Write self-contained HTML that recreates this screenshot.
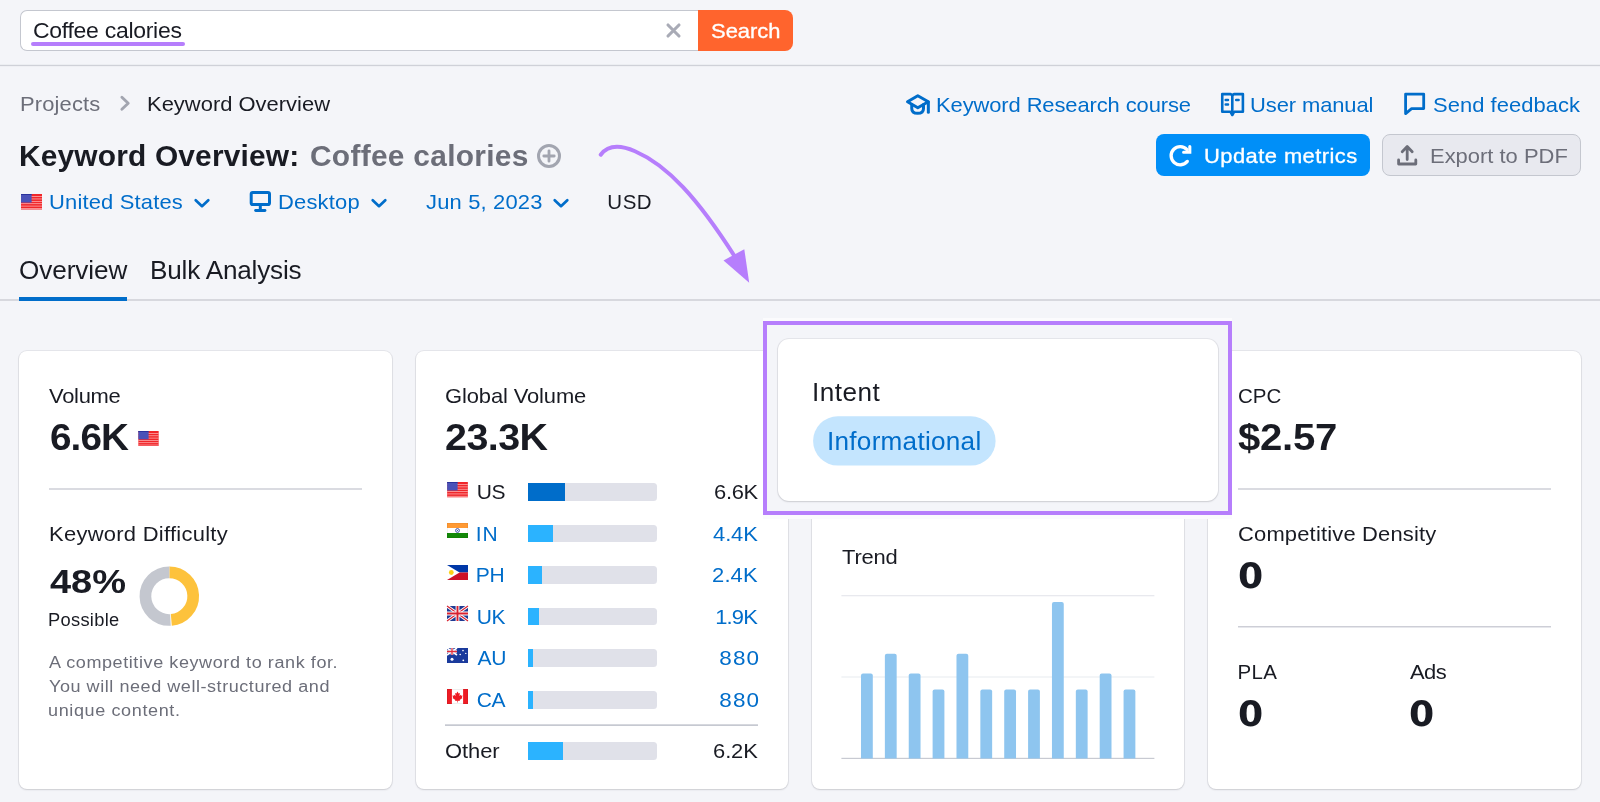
<!DOCTYPE html>
<html lang="en">
<head>
<meta charset="utf-8">
<title>Keyword Overview: Coffee calories</title>
<style>
*{box-sizing:border-box;margin:0;padding:0}
html,body{width:1600px;height:802px;overflow:hidden;background:#f4f5f9}
body{position:relative;font-family:"Liberation Sans", sans-serif;-webkit-font-smoothing:antialiased}
.t{position:absolute;white-space:nowrap}
.txt{position:absolute;left:0;top:0;width:1600px;height:802px;will-change:transform}
.i{position:absolute;display:block;overflow:visible}
.abs{position:absolute}
.card{position:absolute;background:#fff;border-radius:8px;box-shadow:0 0 0 1px rgba(25,27,35,.05),0 1px 2px rgba(25,27,35,.12),0 0 2px rgba(25,27,35,.05)}
.hr{position:absolute;height:2px;background:#dadbe1}
.bar{position:absolute;left:528.2px;width:128.4px;height:17.8px;background:#e0e1e9;border-radius:0 3.5px 3.5px 0;overflow:hidden}
.bar div{height:100%}
</style>
</head>
<body>
<div class="abs" style="left:20px;top:10px;width:679px;height:41.3px;background:#fff;border:1px solid #c4c7cf;border-right:0;border-radius:7px 0 0 7px"></div>
<div class="abs" style="left:698px;top:10px;width:95.3px;height:41.3px;background:#ff642d;border-radius:0 8px 8px 0"></div>
<div class="abs" style="left:31px;top:42px;width:153.5px;height:4.2px;background:#b67efc;border-radius:2.1px"></div>
<div class="abs" style="left:0;top:64px;width:1600px;height:1px;background:#eceef2"></div>
<div class="abs" style="left:0;top:65px;width:1600px;height:1px;background:#cfd1d8"></div>
<div class="abs" style="left:0;top:66px;width:1600px;height:1px;background:#eff0f4"></div>
<div class="abs" style="left:1155.5px;top:134.3px;width:214.5px;height:41.7px;background:#008ff8;border-radius:8px"></div>
<div class="abs" style="left:1382.3px;top:134.3px;width:198.5px;height:41.7px;background:#e8e9ef;border:1.2px solid #c4c7cf;border-radius:8px"></div>
<div class="abs" style="left:0;top:299px;width:1600px;height:2px;background:#d7d8de"></div>
<div class="abs" style="left:19.3px;top:296.6px;width:108.2px;height:4.3px;background:#006dca"></div>
<div class="card" style="left:19px;top:351.2px;width:372.8px;height:437.7px"></div>
<div class="card" style="left:415.8px;top:351.2px;width:372.1px;height:437.7px"></div>
<div class="card" style="left:812px;top:351.2px;width:371.9px;height:437.7px"></div>
<div class="card" style="left:1208px;top:351.2px;width:372.6px;height:437.7px"></div>
<div class="hr" style="left:49px;top:488px;width:313px"></div>
<div class="hr" style="left:1238px;top:488px;width:313px"></div>
<div class="hr" style="left:1238px;top:626px;width:313px;height:1px;background:#cdced6"></div>
<div class="hr" style="left:1238px;top:627px;width:313px;height:1px;background:#e6e7ec"></div>
<div class="hr" style="left:445px;top:724px;width:313px;height:1px;background:#d6d8de"></div>
<div class="hr" style="left:445px;top:725px;width:313px;height:1px;background:#c6c9d1"></div>
<div class="bar" style="top:482.8px"><div style="width:36.7px;background:#006dca"></div></div>
<div class="bar" style="top:524.7px"><div style="width:24.7px;background:#2bb3ff"></div></div>
<div class="bar" style="top:566.1px"><div style="width:13.6px;background:#2bb3ff"></div></div>
<div class="bar" style="top:607.7px"><div style="width:10.9px;background:#2bb3ff"></div></div>
<div class="bar" style="top:649.3px"><div style="width:5.1px;background:#2bb3ff"></div></div>
<div class="bar" style="top:691px"><div style="width:5.1px;background:#2bb3ff"></div></div>
<div class="bar" style="top:742.2px"><div style="width:34.7px;background:#2bb3ff"></div></div>
<svg class="i" style="left:830px;top:585px" width="340" height="185" viewBox="830 585 340 185"><rect x="841.4" y="595.1" width="313" height="1.2" fill="#e6e7ed"/><rect x="841.4" y="676.4" width="313" height="1.2" fill="#eceef2"/><rect x="841.4" y="757.8" width="313" height="1.2" fill="#c8cad2"/><path d="M861.00 758.4 V675.60 Q861.00 673.60 863.00 673.60 H870.80 Q872.80 673.60 872.80 675.60 V758.4 Z" fill="#8ec5ef"/><path d="M884.87 758.4 V655.70 Q884.87 653.70 886.87 653.70 H894.67 Q896.67 653.70 896.67 655.70 V758.4 Z" fill="#8ec5ef"/><path d="M908.74 758.4 V675.60 Q908.74 673.60 910.74 673.60 H918.54 Q920.54 673.60 920.54 675.60 V758.4 Z" fill="#8ec5ef"/><path d="M932.61 758.4 V691.50 Q932.61 689.50 934.61 689.50 H942.41 Q944.41 689.50 944.41 691.50 V758.4 Z" fill="#8ec5ef"/><path d="M956.48 758.4 V655.70 Q956.48 653.70 958.48 653.70 H966.28 Q968.28 653.70 968.28 655.70 V758.4 Z" fill="#8ec5ef"/><path d="M980.35 758.4 V691.50 Q980.35 689.50 982.35 689.50 H990.15 Q992.15 689.50 992.15 691.50 V758.4 Z" fill="#8ec5ef"/><path d="M1004.22 758.4 V691.50 Q1004.22 689.50 1006.22 689.50 H1014.02 Q1016.02 689.50 1016.02 691.50 V758.4 Z" fill="#8ec5ef"/><path d="M1028.09 758.4 V691.50 Q1028.09 689.50 1030.09 689.50 H1037.89 Q1039.89 689.50 1039.89 691.50 V758.4 Z" fill="#8ec5ef"/><path d="M1051.96 758.4 V604.10 Q1051.96 602.10 1053.96 602.10 H1061.76 Q1063.76 602.10 1063.76 604.10 V758.4 Z" fill="#8ec5ef"/><path d="M1075.83 758.4 V691.50 Q1075.83 689.50 1077.83 689.50 H1085.63 Q1087.63 689.50 1087.63 691.50 V758.4 Z" fill="#8ec5ef"/><path d="M1099.70 758.4 V675.60 Q1099.70 673.60 1101.70 673.60 H1109.50 Q1111.50 673.60 1111.50 675.60 V758.4 Z" fill="#8ec5ef"/><path d="M1123.57 758.4 V691.50 Q1123.57 689.50 1125.57 689.50 H1133.37 Q1135.37 689.50 1135.37 691.50 V758.4 Z" fill="#8ec5ef"/></svg>
<div class="abs" style="left:762.6px;top:318.4px;width:469.6px;height:200.6px;background:#fbfbfd"></div>
<div class="abs" style="left:762.6px;top:321.3px;width:469.6px;height:193.7px;background:#f4f5f9;border:4.2px solid #b67efc"></div>
<div class="card" style="left:778.3px;top:338.8px;width:439.6px;height:161.8px;border-radius:11px"></div>
<svg class="i" style="left:810px;top:414px" width="190" height="54" viewBox="810 414 190 54"><rect x="813.1" y="416.25" width="182.5" height="49.35" rx="24.67" fill="#c4e5fe"/></svg>
<svg class="i" style="left:590px;top:135px" width="180" height="160" viewBox="590 135 180 160"><path d="M600.75 154.75 C604.6 149.53 613.43 141.97 635 151.25 C667.13 165.08 697.5 197.5 737 260" fill="none" stroke="#b67efc" stroke-width="4" stroke-linecap="round"/><path d="M749.2 282.8 L723.5 260.4 L744.3 249.2 Z" fill="#b67efc"/></svg>
<svg class="i" style="left:666.3px;top:23.0px" width="15" height="15" viewBox="0 0 15 15" ><path d="M2 2 L13 13 M13 2 L2 13" stroke="#a9abb6" stroke-width="3.1" stroke-linecap="round"/></svg>
<svg class="i" style="left:118px;top:94px" width="14" height="18" viewBox="0 0 14 18" ><path d="M3.9 3.2 L10.2 9.2 L3.9 15.2" fill="none" stroke="#a2a5b0" stroke-width="2.9" stroke-linecap="round" stroke-linejoin="round"/></svg>
<svg class="i" style="left:536px;top:142.5px" width="26" height="26" viewBox="0 0 26 26" ><circle cx="13" cy="13" r="10.5" fill="none" stroke="#a2a5b0" stroke-width="3"/><path d="M7.8 13 H18.2 M13 7.8 V18.2" stroke="#a2a5b0" stroke-width="2.8" stroke-linecap="round"/></svg>
<svg class="i" style="left:21px;top:194.4px" width="21" height="15.5" viewBox="0 0 21 15.5" ><rect width="21" height="15.5" fill="#f0262a"/><rect y="2.20" width="21" height="0.75" fill="#ffb4b4"/><rect y="4.58" width="21" height="0.75" fill="#ffb4b4"/><rect y="6.96" width="21" height="0.75" fill="#ffb4b4"/><rect y="9.34" width="21" height="0.75" fill="#ffb4b4"/><rect y="11.72" width="21" height="0.75" fill="#ffb4b4"/><rect y="14.10" width="21" height="0.75" fill="#ffb4b4"/><rect width="10.6" height="8.6" fill="#4a52b8"/><rect width="10.6" height="1" fill="#2a329c"/></svg>
<svg class="i" style="left:191.5px;top:192.9px" width="20" height="20" viewBox="0 0 20 20" ><path d="M3.7 7.2 L10 13.2 L16.3 7.2" fill="none" stroke="#006dca" stroke-width="2.7" stroke-linecap="round" stroke-linejoin="round"/></svg>
<svg class="i" style="left:248px;top:189px" width="24" height="24" viewBox="0 0 24 24" ><rect x="3.2" y="3.5" width="18.3" height="12" rx="1.6" fill="none" stroke="#006dca" stroke-width="3"/><path d="M12.3 17 V20.4" stroke="#006dca" stroke-width="3"/><path d="M7.6 21.5 H17" stroke="#006dca" stroke-width="2.8" stroke-linecap="round"/></svg>
<svg class="i" style="left:368.5px;top:192.9px" width="20" height="20" viewBox="0 0 20 20" ><path d="M3.7 7.2 L10 13.2 L16.3 7.2" fill="none" stroke="#006dca" stroke-width="2.7" stroke-linecap="round" stroke-linejoin="round"/></svg>
<svg class="i" style="left:551.2px;top:192.9px" width="20" height="20" viewBox="0 0 20 20" ><path d="M3.7 7.2 L10 13.2 L16.3 7.2" fill="none" stroke="#006dca" stroke-width="2.7" stroke-linecap="round" stroke-linejoin="round"/></svg>
<svg class="i" style="left:904px;top:90px" width="28" height="28" viewBox="0 0 28 28" ><g fill="none" stroke="#006dca" stroke-width="3" stroke-linejoin="round" stroke-linecap="round"><path d="M13.8 5.7 L3.5 11.8 L13.8 17.8 L24.3 11.7 Z"/><path d="M24.35 11.9 V22.2"/><path d="M7.75 14.6 V18.4 C7.75 21.8 10.5 23.3 13.65 23.3 C16.8 23.3 19.5 21.8 19.5 18.4 V14.6"/></g></svg>
<svg class="i" style="left:1218px;top:89px" width="30" height="30" viewBox="0 0 30 30" ><g fill="none" stroke="#006dca" stroke-width="2.6" stroke-linejoin="round"><path d="M4.25 5.1 H12.6 L14.3 6.3 L16 5.1 H24.9 V22.7 H16.2 L14.3 26 L12.4 22.7 H4.25 Z"/><path d="M14.3 6 V24"/></g><g stroke="#006dca" stroke-width="2.5" stroke-linecap="round"><path d="M7.7 10.9 H10 M7.7 15.4 H10 M18.2 10.9 H20.6"/></g></svg>
<svg class="i" style="left:1401px;top:89px" width="28" height="30" viewBox="0 0 28 30" ><path d="M4.6 5.1 H22.7 V19.6 H10.6 L4.6 24.6 Z" fill="none" stroke="#006dca" stroke-width="2.8" stroke-linejoin="round"/></svg>
<svg class="i" style="left:1166px;top:141px" width="30" height="30" viewBox="0 0 30 30" ><g fill="none" stroke="#fff" stroke-width="3.3" stroke-linecap="round"><path d="M21.3 20.4 A9.1 9.1 0 1 1 21.0 8.6"/><path d="M23.8 5.6 V11.3 H17.6" stroke-width="3.1" stroke-linejoin="miter"/></g></svg>
<svg class="i" style="left:1393px;top:141px" width="28" height="28" viewBox="0 0 28 28" ><g fill="none" stroke="#6c6e79" stroke-width="2.8" stroke-linecap="round" stroke-linejoin="round"><path d="M14.2 18.6 V6 M9.2 10.7 L14.2 5.6 L19.2 10.7"/><path d="M5.6 19 V23 H22.8 V19"/></g></svg>
<svg class="i" style="left:138.1px;top:431.0px" width="21" height="15" viewBox="0 0 21 15.5" ><rect width="21" height="15.5" fill="#f0262a"/><rect y="2.20" width="21" height="0.75" fill="#ffb4b4"/><rect y="4.58" width="21" height="0.75" fill="#ffb4b4"/><rect y="6.96" width="21" height="0.75" fill="#ffb4b4"/><rect y="9.34" width="21" height="0.75" fill="#ffb4b4"/><rect y="11.72" width="21" height="0.75" fill="#ffb4b4"/><rect y="14.10" width="21" height="0.75" fill="#ffb4b4"/><rect width="10.6" height="8.6" fill="#4a52b8"/><rect width="10.6" height="1" fill="#2a329c"/></svg>
<svg class="i" style="left:446.5px;top:481.5px" width="21" height="15.3" viewBox="0 0 21 15.5" ><rect width="21" height="15.5" fill="#f0262a"/><rect y="2.20" width="21" height="0.75" fill="#ffb4b4"/><rect y="4.58" width="21" height="0.75" fill="#ffb4b4"/><rect y="6.96" width="21" height="0.75" fill="#ffb4b4"/><rect y="9.34" width="21" height="0.75" fill="#ffb4b4"/><rect y="11.72" width="21" height="0.75" fill="#ffb4b4"/><rect y="14.10" width="21" height="0.75" fill="#ffb4b4"/><rect width="10.6" height="8.6" fill="#4a52b8"/><rect width="10.6" height="1" fill="#2a329c"/></svg>
<svg class="i" style="left:446.5px;top:523px" width="21" height="15" viewBox="0 0 21 15" ><rect width="21" height="15" fill="#fff"/><rect width="21" height="5" fill="#ff9933"/><rect y="10" width="21" height="5" fill="#138808"/><circle cx="10.5" cy="7.5" r="1.9" fill="none" stroke="#2a3fa0" stroke-width="0.9"/><circle cx="10.5" cy="7.5" r="0.6" fill="#2a3fa0"/><rect x="0.25" y="0.25" width="20.5" height="14.5" fill="none" stroke="#00000018" stroke-width="0.5"/></svg>
<svg class="i" style="left:446.5px;top:564.7px" width="21" height="15" viewBox="0 0 21 15" ><rect width="21" height="7.5" fill="#0038a8"/><rect y="7.5" width="21" height="7.5" fill="#ce1126"/><path d="M0 0 L12.6 7.5 L0 15 Z" fill="#fff"/><circle cx="4.3" cy="7.5" r="2.4" fill="#fcd116"/></svg>
<svg class="i" style="left:446.5px;top:606.2px" width="21" height="15" viewBox="0 0 21 15" ><rect width="21" height="15" fill="#1f3a93"/><path d="M0 0 L21 15 M21 0 L0 15" stroke="#fff" stroke-width="3"/><path d="M0 0 L21 15 M21 0 L0 15" stroke="#d8202f" stroke-width="1.1"/><path d="M10.5 0 V15 M0 7.5 H21" stroke="#fff" stroke-width="3.8"/><path d="M10.5 0 V15 M0 7.5 H21" stroke="#d8202f" stroke-width="1.9"/></svg>
<svg class="i" style="left:446.5px;top:647.8px" width="21" height="15" viewBox="0 0 21 15" ><rect width="21" height="15" fill="#1a3a9c"/><path d="M0 0 L10 7 M10 0 L0 7" stroke="#fff" stroke-width="1.6"/><path d="M5 0 V7 M0 3.5 H10" stroke="#fff" stroke-width="2.6"/><path d="M5 0 V7 M0 3.5 H10" stroke="#e0303c" stroke-width="1.3"/><circle cx="5" cy="11.3" r="1.5" fill="#fff"/><circle cx="16" cy="2.6" r="0.8" fill="#fff"/><circle cx="13.2" cy="6.5" r="0.8" fill="#fff"/><circle cx="18.8" cy="5.4" r="0.7" fill="#fff"/><circle cx="16.3" cy="12.3" r="0.9" fill="#fff"/></svg>
<svg class="i" style="left:446.5px;top:689.2px" width="21" height="15" viewBox="0 0 21 15" ><rect width="21" height="15" fill="#fff"/><rect width="4.9" height="15" fill="#ee1c25"/><rect x="16.1" width="4.9" height="15" fill="#ee1c25"/><path d="M10.5 2.4 L11.6 4.6 L12.9 4.1 L12.4 7 L13.9 5.8 L14.3 6.8 L15.6 6.6 L14.9 8.6 L15.5 9.1 L12.6 11.1 L12.9 12 L10.8 11.7 L10.8 13.4 L10.2 13.4 L10.2 11.7 L8.1 12 L8.4 11.1 L5.5 9.1 L6.1 8.6 L5.4 6.6 L6.7 6.8 L7.1 5.8 L8.6 7 L8.1 4.1 L9.4 4.6 Z" fill="#ee1c25"/><rect x="0.25" y="0.25" width="20.5" height="14.5" fill="none" stroke="#00000020" stroke-width="0.5"/></svg>
<svg class="i" style="left:134px;top:561px" width="70" height="70" viewBox="134 561 70 70"><path d="M169.35 572.30 A23.85 23.85 0 0 1 171.30 619.92" fill="none" stroke="#fdc23c" stroke-width="11.7"/><path d="M170.47 619.97 A23.85 23.85 0 1 1 169.35 572.30" fill="none" stroke="#c4c7cf" stroke-width="11.7"/></svg>
<div class="txt">
<div class="t" id="q" style="top:16px;font-size:22px;line-height:29px;color:#191b23;letter-spacing:-0.276px;transform:scaleX(1.045);transform-origin:left center;left:32.94px;">Coffee calories</div>
<div class="t" id="sbtn" style="top:17px;font-size:21px;line-height:27px;color:#fff;transform:scaleX(1.045);transform-origin:left center;-webkit-text-stroke:0.35px #fff;left:710.76px;">Search</div>
<div class="t" id="bc1" style="top:90px;font-size:21px;line-height:27px;color:#6c6e79;letter-spacing:0.130px;transform:scaleX(1.045);transform-origin:left center;left:19.58px;">Projects</div>
<div class="t" id="bc2" style="top:90px;font-size:21px;line-height:27px;color:#191b23;letter-spacing:0.007px;transform:scaleX(1.045);transform-origin:left center;left:146.92px;">Keyword Overview</div>
<div class="t" id="h1a" style="top:137px;font-size:29px;line-height:38px;color:#191b23;font-weight:700;letter-spacing:0.176px;transform:scaleX(1.03);transform-origin:left center;left:18.74px;">Keyword Overview:</div>
<div class="t" id="h1b" style="top:137px;font-size:29px;line-height:38px;color:#6c6e79;font-weight:700;letter-spacing:0.292px;transform:scaleX(1.03);transform-origin:left center;left:310.30px;">Coffee calories</div>
<div class="t" id="f1" style="top:188px;font-size:21px;line-height:27px;color:#006dca;letter-spacing:0.159px;transform:scaleX(1.045);transform-origin:left center;left:49.30px;">United States</div>
<div class="t" id="f2" style="top:188px;font-size:21px;line-height:27px;color:#006dca;letter-spacing:0.184px;transform:scaleX(1.045);transform-origin:left center;left:278.30px;">Desktop</div>
<div class="t" id="f3" style="top:188px;font-size:21px;line-height:27px;color:#006dca;letter-spacing:0.160px;transform:scaleX(1.045);transform-origin:left center;left:426.10px;">Jun 5, 2023</div>
<div class="t" id="f4" style="top:188px;font-size:20.5px;line-height:27px;color:#191b23;letter-spacing:0.500px;transform:scaleX(1.0);transform-origin:left center;left:607.35px;">USD</div>
<div class="t" id="l1" style="top:91px;font-size:21px;line-height:27px;color:#006dca;letter-spacing:-0.101px;transform:scaleX(1.045);transform-origin:left center;left:936.20px;">Keyword Research course</div>
<div class="t" id="l2" style="top:91px;font-size:21px;line-height:27px;color:#006dca;letter-spacing:-0.090px;transform:scaleX(1.045);transform-origin:left center;left:1250.30px;">User manual</div>
<div class="t" id="l3" style="top:91px;font-size:21px;line-height:27px;color:#006dca;letter-spacing:0.041px;transform:scaleX(1.045);transform-origin:left center;left:1433.20px;">Send feedback</div>
<div class="t" id="b1" style="top:142px;font-size:21px;line-height:27px;color:#fff;letter-spacing:0.416px;transform:scaleX(1.045);transform-origin:left center;-webkit-text-stroke:0.33px #fff;left:1204.20px;">Update metrics</div>
<div class="t" id="b2" style="top:142px;font-size:21px;line-height:27px;color:#6c6e79;transform:scaleX(1.045);transform-origin:left center;left:1430.30px;">Export to PDF</div>
<div class="t" id="tab1" style="top:254px;font-size:25px;line-height:32px;color:#191b23;letter-spacing:-0.085px;transform:scaleX(1.045);transform-origin:left center;left:19.20px;">Overview</div>
<div class="t" id="tab2" style="top:254px;font-size:25px;line-height:32px;color:#191b23;letter-spacing:-0.182px;transform:scaleX(1.045);transform-origin:left center;left:150.40px;">Bulk Analysis</div>
<div class="t" id="c1a" style="top:382px;font-size:21px;line-height:27px;color:#191b23;letter-spacing:-0.280px;transform:scaleX(1.045);transform-origin:left center;left:49.10px;">Volume</div>
<div class="t" id="c1b" style="top:414px;font-size:36.5px;line-height:47px;color:#191b23;font-weight:700;letter-spacing:-0.865px;transform:scaleX(1.06);transform-origin:left center;left:49.56px;">6.6K</div>
<div class="t" id="c1c" style="top:520px;font-size:21px;line-height:27px;color:#191b23;letter-spacing:0.265px;transform:scaleX(1.045);transform-origin:left center;left:49.32px;">Keyword Difficulty</div>
<div class="t" id="c1d" style="top:560px;font-size:33px;line-height:43px;color:#191b23;font-weight:700;transform:scaleX(1.15);transform-origin:left center;left:49.70px;">48%</div>
<div class="t" id="c1e" style="top:609px;font-size:17.5px;line-height:23px;color:#191b23;letter-spacing:0.284px;transform:scaleX(1.045);transform-origin:left center;left:48.30px;">Possible</div>
<div class="t" id="c1f" style="top:651px;font-size:17.25px;line-height:22px;color:#6c6e79;letter-spacing:0.554px;transform:scaleX(1.045);transform-origin:left center;left:49.10px;">A competitive keyword to rank for.</div>
<div class="t" id="c1g" style="top:675px;font-size:17.25px;line-height:22px;color:#6c6e79;letter-spacing:0.525px;transform:scaleX(1.045);transform-origin:left center;left:49.10px;">You will need well-structured and</div>
<div class="t" id="c1h" style="top:699px;font-size:17.25px;line-height:22px;color:#6c6e79;letter-spacing:0.592px;transform:scaleX(1.045);transform-origin:left center;left:48.30px;">unique content.</div>
<div class="t" id="c2a" style="top:382px;font-size:21px;line-height:27px;color:#191b23;letter-spacing:-0.113px;transform:scaleX(1.045);transform-origin:left center;left:445.05px;">Global Volume</div>
<div class="t" id="c2b" style="top:414px;font-size:36.5px;line-height:47px;color:#191b23;font-weight:700;letter-spacing:-0.500px;transform:scaleX(1.08);transform-origin:left center;left:445.20px;">23.3K</div>
<div class="t" id="cc0" style="top:478px;font-size:21px;line-height:27px;color:#191b23;letter-spacing:-0.300px;transform:scaleX(1.0);transform-origin:left center;left:476.64px;">US</div>
<div class="t" id="cv0" style="top:478px;font-size:21px;line-height:27px;color:#191b23;letter-spacing:-0.334px;transform:scaleX(1.045);transform-origin:right center;right:842.27px;">6.6K</div>
<div class="t" id="cc1" style="top:520px;font-size:21px;line-height:27px;color:#006dca;letter-spacing:0.800px;transform:scaleX(1.0);transform-origin:left center;left:475.84px;">IN</div>
<div class="t" id="cv1" style="top:520px;font-size:21px;line-height:27px;color:#006dca;letter-spacing:-0.127px;transform:scaleX(1.045);transform-origin:right center;right:842.07px;">4.4K</div>
<div class="t" id="cc2" style="top:561px;font-size:21px;line-height:27px;color:#006dca;letter-spacing:-0.300px;transform:scaleX(1.0);transform-origin:left center;left:475.84px;">PH</div>
<div class="t" id="cv2" style="top:561px;font-size:21px;line-height:27px;color:#006dca;letter-spacing:0.137px;transform:scaleX(1.045);transform-origin:right center;right:841.80px;">2.4K</div>
<div class="t" id="cc3" style="top:603px;font-size:21px;line-height:27px;color:#006dca;letter-spacing:-0.300px;transform:scaleX(1.0);transform-origin:left center;left:476.64px;">UK</div>
<div class="t" id="cv3" style="top:603px;font-size:21px;line-height:27px;color:#006dca;letter-spacing:-0.802px;transform:scaleX(1.045);transform-origin:right center;right:842.74px;">1.9K</div>
<div class="t" id="cc4" style="top:644px;font-size:21px;line-height:27px;color:#006dca;letter-spacing:-0.100px;transform:scaleX(1.0);transform-origin:left center;left:477.44px;">AU</div>
<div class="t" id="cv4" style="top:644px;font-size:21px;line-height:27px;color:#006dca;letter-spacing:1.000px;transform:scaleX(1.07);transform-origin:right center;right:840.14px;">880</div>
<div class="t" id="cc5" style="top:686px;font-size:21px;line-height:27px;color:#006dca;letter-spacing:-0.300px;transform:scaleX(1.0);transform-origin:left center;left:476.64px;">CA</div>
<div class="t" id="cv5" style="top:686px;font-size:21px;line-height:27px;color:#006dca;letter-spacing:1.000px;transform:scaleX(1.07);transform-origin:right center;right:840.14px;">880</div>
<div class="t" id="oth" style="top:737px;font-size:21px;line-height:27px;color:#191b23;letter-spacing:-0.075px;transform:scaleX(1.045);transform-origin:left center;left:445.20px;">Other</div>
<div class="t" id="othv" style="top:737px;font-size:21px;line-height:27px;color:#191b23;letter-spacing:-0.138px;transform:scaleX(1.045);transform-origin:right center;right:842.08px;">6.2K</div>
<div class="t" id="int" style="top:376px;font-size:25px;line-height:32px;color:#191b23;letter-spacing:0.480px;transform:scaleX(1.045);transform-origin:left center;left:812.40px;">Intent</div>
<div class="t" id="inf" style="top:425px;font-size:25px;line-height:32px;color:#006dca;letter-spacing:0.253px;transform:scaleX(1.045);transform-origin:left center;left:827.38px;">Informational</div>
<div class="t" id="trend" style="top:543px;font-size:21px;line-height:27px;color:#191b23;letter-spacing:-0.200px;transform:scaleX(1.045);transform-origin:left center;left:842.25px;">Trend</div>
<div class="t" id="c4a" style="top:382px;font-size:20.5px;line-height:27px;color:#191b23;transform:scaleX(1.0);transform-origin:left center;left:1237.96px;">CPC</div>
<div class="t" id="c4b" style="top:414px;font-size:36.5px;line-height:47px;color:#191b23;font-weight:700;letter-spacing:-0.266px;transform:scaleX(1.1);transform-origin:left center;left:1238.35px;">$2.57</div>
<div class="t" id="c4c" style="top:520px;font-size:21px;line-height:27px;color:#191b23;letter-spacing:0.167px;transform:scaleX(1.045);transform-origin:left center;left:1238.18px;">Competitive Density</div>
<div class="t" id="c4d" style="top:553px;font-size:35.5px;line-height:46px;color:#191b23;font-weight:700;transform:scaleX(1.02);transform-origin:left center;font-family:'DejaVu Sans', sans-serif;left:1237.86px;">0</div>
<div class="t" id="c4e" style="top:658px;font-size:20.5px;line-height:27px;color:#191b23;letter-spacing:0.400px;transform:scaleX(1.0);transform-origin:left center;left:1237.38px;">PLA</div>
<div class="t" id="c4f" style="top:691px;font-size:35.5px;line-height:46px;color:#191b23;font-weight:700;transform:scaleX(1.02);transform-origin:left center;font-family:'DejaVu Sans', sans-serif;left:1237.86px;">0</div>
<div class="t" id="c4g" style="top:658px;font-size:21px;line-height:27px;color:#191b23;letter-spacing:-0.500px;transform:scaleX(1.045);transform-origin:left center;left:1410.32px;">Ads</div>
<div class="t" id="c4h" style="top:691px;font-size:35.5px;line-height:46px;color:#191b23;font-weight:700;transform:scaleX(1.02);transform-origin:left center;font-family:'DejaVu Sans', sans-serif;left:1409.28px;">0</div>
</div>
</body>
</html>
